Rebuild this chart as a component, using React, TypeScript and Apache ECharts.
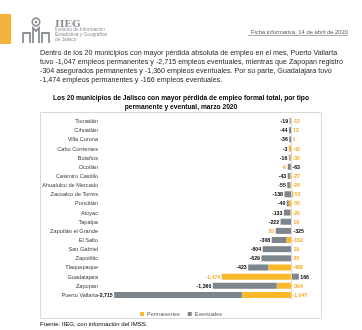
import React, { useEffect, useRef } from "react";
import * as echarts from "echarts";

const municipios = [
  "Tomatlán", "Cihuatlán", "Villa Corona", "Cabo Corrientes", "Bolaños", "Ocotlán",
  "Casimiro Castillo", "Ahualulco de Mercado", "Zacoalco de Torres", "Poncitlán", "Atoyac",
  "Tapalpa", "Zapotlán el Grande", "El Salto", "San Gabriel", "Zapotiltic", "Tlaquepaque",
  "Guadalajara", "Zapopan", "Puerto Vallarta",
];
const permanentes = [-12, 12, 1, -42, -30, -6, -27, -24, 51, -50, -20, 19, 20, -102, 19, 25, -488, -1474, -304, -1047];
const eventuales = [-19, -44, -36, -3, -16, -63, -43, -55, -138, -40, -133, -222, -325, -308, -604, -629, -423, 166, -1360, -2715];
// rows where the original chart shows the two data labels in swapped places
const etiquetasCruzadas = ["Ocotlán", "Zapotlán el Grande"];
const seriesNames = ["Permanentes", "Eventuales"];

const parrafo = [
  "Dentro de los 20 municipios con mayor pérdida absoluta de empleo en el mes, Puerto Vallarta",
  "tuvo -1,047 empleos permanentes y -2,715 empleos eventuales, mientras que Zapopan registró",
  "-304 asegurados permanentes y -1,360 empleos eventuales. Por su parte, Guadalajara tuvo",
  "-1,474 empleos permanentes y -166 empleos eventuales.",
];
const titulo = [
  "Los 20 municipios de Jalisco con mayor pérdida de empleo formal total, por tipo",
  "permanente y eventual, marzo 2020",
];
const fuente = "Fuente: IIEG, con información del IMSS.";
const ficha = "Ficha informativa, 14 de abril de 2020";
const instituto = ["Instituto de Información", "Estadística y Geográfica", "de Jalisco"];

const ORANGE = "#FBB829";
const ORANGE_TXT = "#F5A623";
const GREY = "#7D868D";
const FONT = "'Liberation Sans', Arial, sans-serif";

const fmt = (v: number) => v.toLocaleString("en-US");

export default function App() {
  const ref = useRef<HTMLDivElement>(null);
  useEffect(() => {
    document.body.style.margin = "0";
    const chart = echarts.init(ref.current!, null, { renderer: "svg" });

    const crossed = (i: number) => etiquetasCruzadas.includes(municipios[i]);

    const permData = permanentes.map((v, i) => ({
      value: v,
      label: {
        position: v < 0 && eventuales[i] > 0 ? "left" : "right",
        color: crossed(i) ? "#000" : ORANGE_TXT,
      },
    }));
    const evData = eventuales.map((v, i) => ({
      value: v,
      label: {
        position: v > 0 ? "right" : "left",
        color: crossed(i) ? ORANGE_TXT : "#000",
      },
    }));

    const labelBase = {
      show: true,
      fontSize: 5.2,
      fontWeight: "bold" as const,
      fontFamily: FONT,
      distance: 1.5,
    };

    const paraEls = parrafo.map((t, i) => ({
      type: "text",
      x: 40,
      y: 53 + i * 9,
      style: { text: t, fontSize: 7.15, fontFamily: FONT, fill: "#262626", verticalAlign: "middle" },
    }));
    const titleEls = titulo.map((t, i) => ({
      type: "text",
      x: 181,
      y: 97.5 + i * 9,
      style: {
        text: t, fontSize: 6.7, fontWeight: "bold", fontFamily: FONT, fill: "#000",
        align: "center", verticalAlign: "middle",
      },
    }));
    const instEls = instituto.map((t, i) => ({
      type: "text",
      x: 55,
      y: 29.5 + i * 5,
      style: { text: t, fontSize: 4.8, fontFamily: FONT, fill: "#8A9096", verticalAlign: "middle" },
    }));

    chart.setOption({
      animation: false,
      textStyle: { fontFamily: FONT },
      grid: { left: 103, right: 47.5, top: 116.5, height: 183, containLabel: false },
      xAxis: { type: "value", min: -4000, max: 500, show: false },
      yAxis: {
        type: "category",
        data: municipios,
        inverse: true,
        axisLine: { show: false },
        axisTick: { show: false },
        axisLabel: { fontSize: 5.6, color: "#404040", margin: 5, fontFamily: FONT },
      },
      legend: {
        data: seriesNames,
        left: "center",
        top: 306,
        icon: "rect",
        itemWidth: 4,
        itemHeight: 4,
        itemGap: 8,
        textStyle: { fontSize: 5.5, color: "#595959", fontFamily: FONT, padding: [0, 0, 0, -2] },
      },
      series: [
        {
          name: seriesNames[0],
          type: "bar",
          stack: "total",
          barWidth: 6,
          itemStyle: { color: ORANGE },
          data: permData,
          label: {
            ...labelBase,
            formatter: (p: any) =>
              crossed(p.dataIndex) ? fmt(eventuales[p.dataIndex]) : fmt(permanentes[p.dataIndex]),
          },
        },
        {
          name: seriesNames[1],
          type: "bar",
          stack: "total",
          barWidth: 6,
          itemStyle: { color: GREY },
          data: evData,
          label: {
            ...labelBase,
            formatter: (p: any) =>
              crossed(p.dataIndex) ? fmt(permanentes[p.dataIndex]) : fmt(eventuales[p.dataIndex]),
          },
          markLine: {
            silent: true,
            symbol: ["none", "none"],
            label: { show: false },
            lineStyle: { color: "#D9D9D9", type: "solid", width: 1 },
            data: [{ xAxis: 0 }],
          },
        },
      ],
      graphic: [
        { type: "rect", shape: { x: 0, y: 14, width: 11, height: 30 }, style: { fill: "#F2B33D" } },
        {
          type: "group",
          children: [
            { type: "circle", shape: { cx: 36, cy: 22, r: 3.8 }, style: { fill: "none", stroke: "#8A9096", lineWidth: 1.6 } },
            { type: "circle", shape: { cx: 36, cy: 22, r: 1.3 }, style: { fill: "#8A9096" } },
            { type: "polyline", shape: { points: [[23, 43], [23, 33], [30, 33], [30, 43]] }, style: { fill: "none", stroke: "#8A9096", lineWidth: 1.8 } },
            { type: "polyline", shape: { points: [[33, 43], [33, 28], [36, 31], [39, 28], [39, 43]] }, style: { fill: "none", stroke: "#8A9096", lineWidth: 1.8 } },
            { type: "polyline", shape: { points: [[42, 43], [42, 33], [49, 33], [49, 43]] }, style: { fill: "none", stroke: "#8A9096", lineWidth: 1.8 } },
          ],
        },
        {
          type: "text",
          x: 55,
          y: 23,
          style: { text: "IIEG", fontSize: 10, fontWeight: "bold", fontFamily: "'DejaVu Serif', serif", fill: "#8A9096", verticalAlign: "middle" },
        },
        ...instEls,
        {
          type: "text",
          x: 348,
          y: 32,
          style: { text: ficha, fontSize: 5.8, fontFamily: FONT, fill: "#595959", align: "right", verticalAlign: "middle" },
        },
        { type: "line", shape: { x1: 248, y1: 35.5, x2: 348, y2: 35.5 }, style: { stroke: "#595959", lineWidth: 0.5 } },
        ...paraEls,
        ...titleEls,
        {
          type: "rect",
          shape: { x: 40.5, y: 112.5, width: 281, height: 206 },
          style: { fill: "none", stroke: "#D9D9D9", lineWidth: 1 },
          z: -1,
        },
        {
          type: "text",
          x: 40,
          y: 324,
          style: { text: fuente, fontSize: 6, fontFamily: FONT, fill: "#000", verticalAlign: "middle" },
        },
      ],
    });
    return () => chart.dispose();
  }, []);
  return <div ref={ref} style={{ position: "fixed", left: 0, top: 0, width: 362, height: 330 }} />;
}
